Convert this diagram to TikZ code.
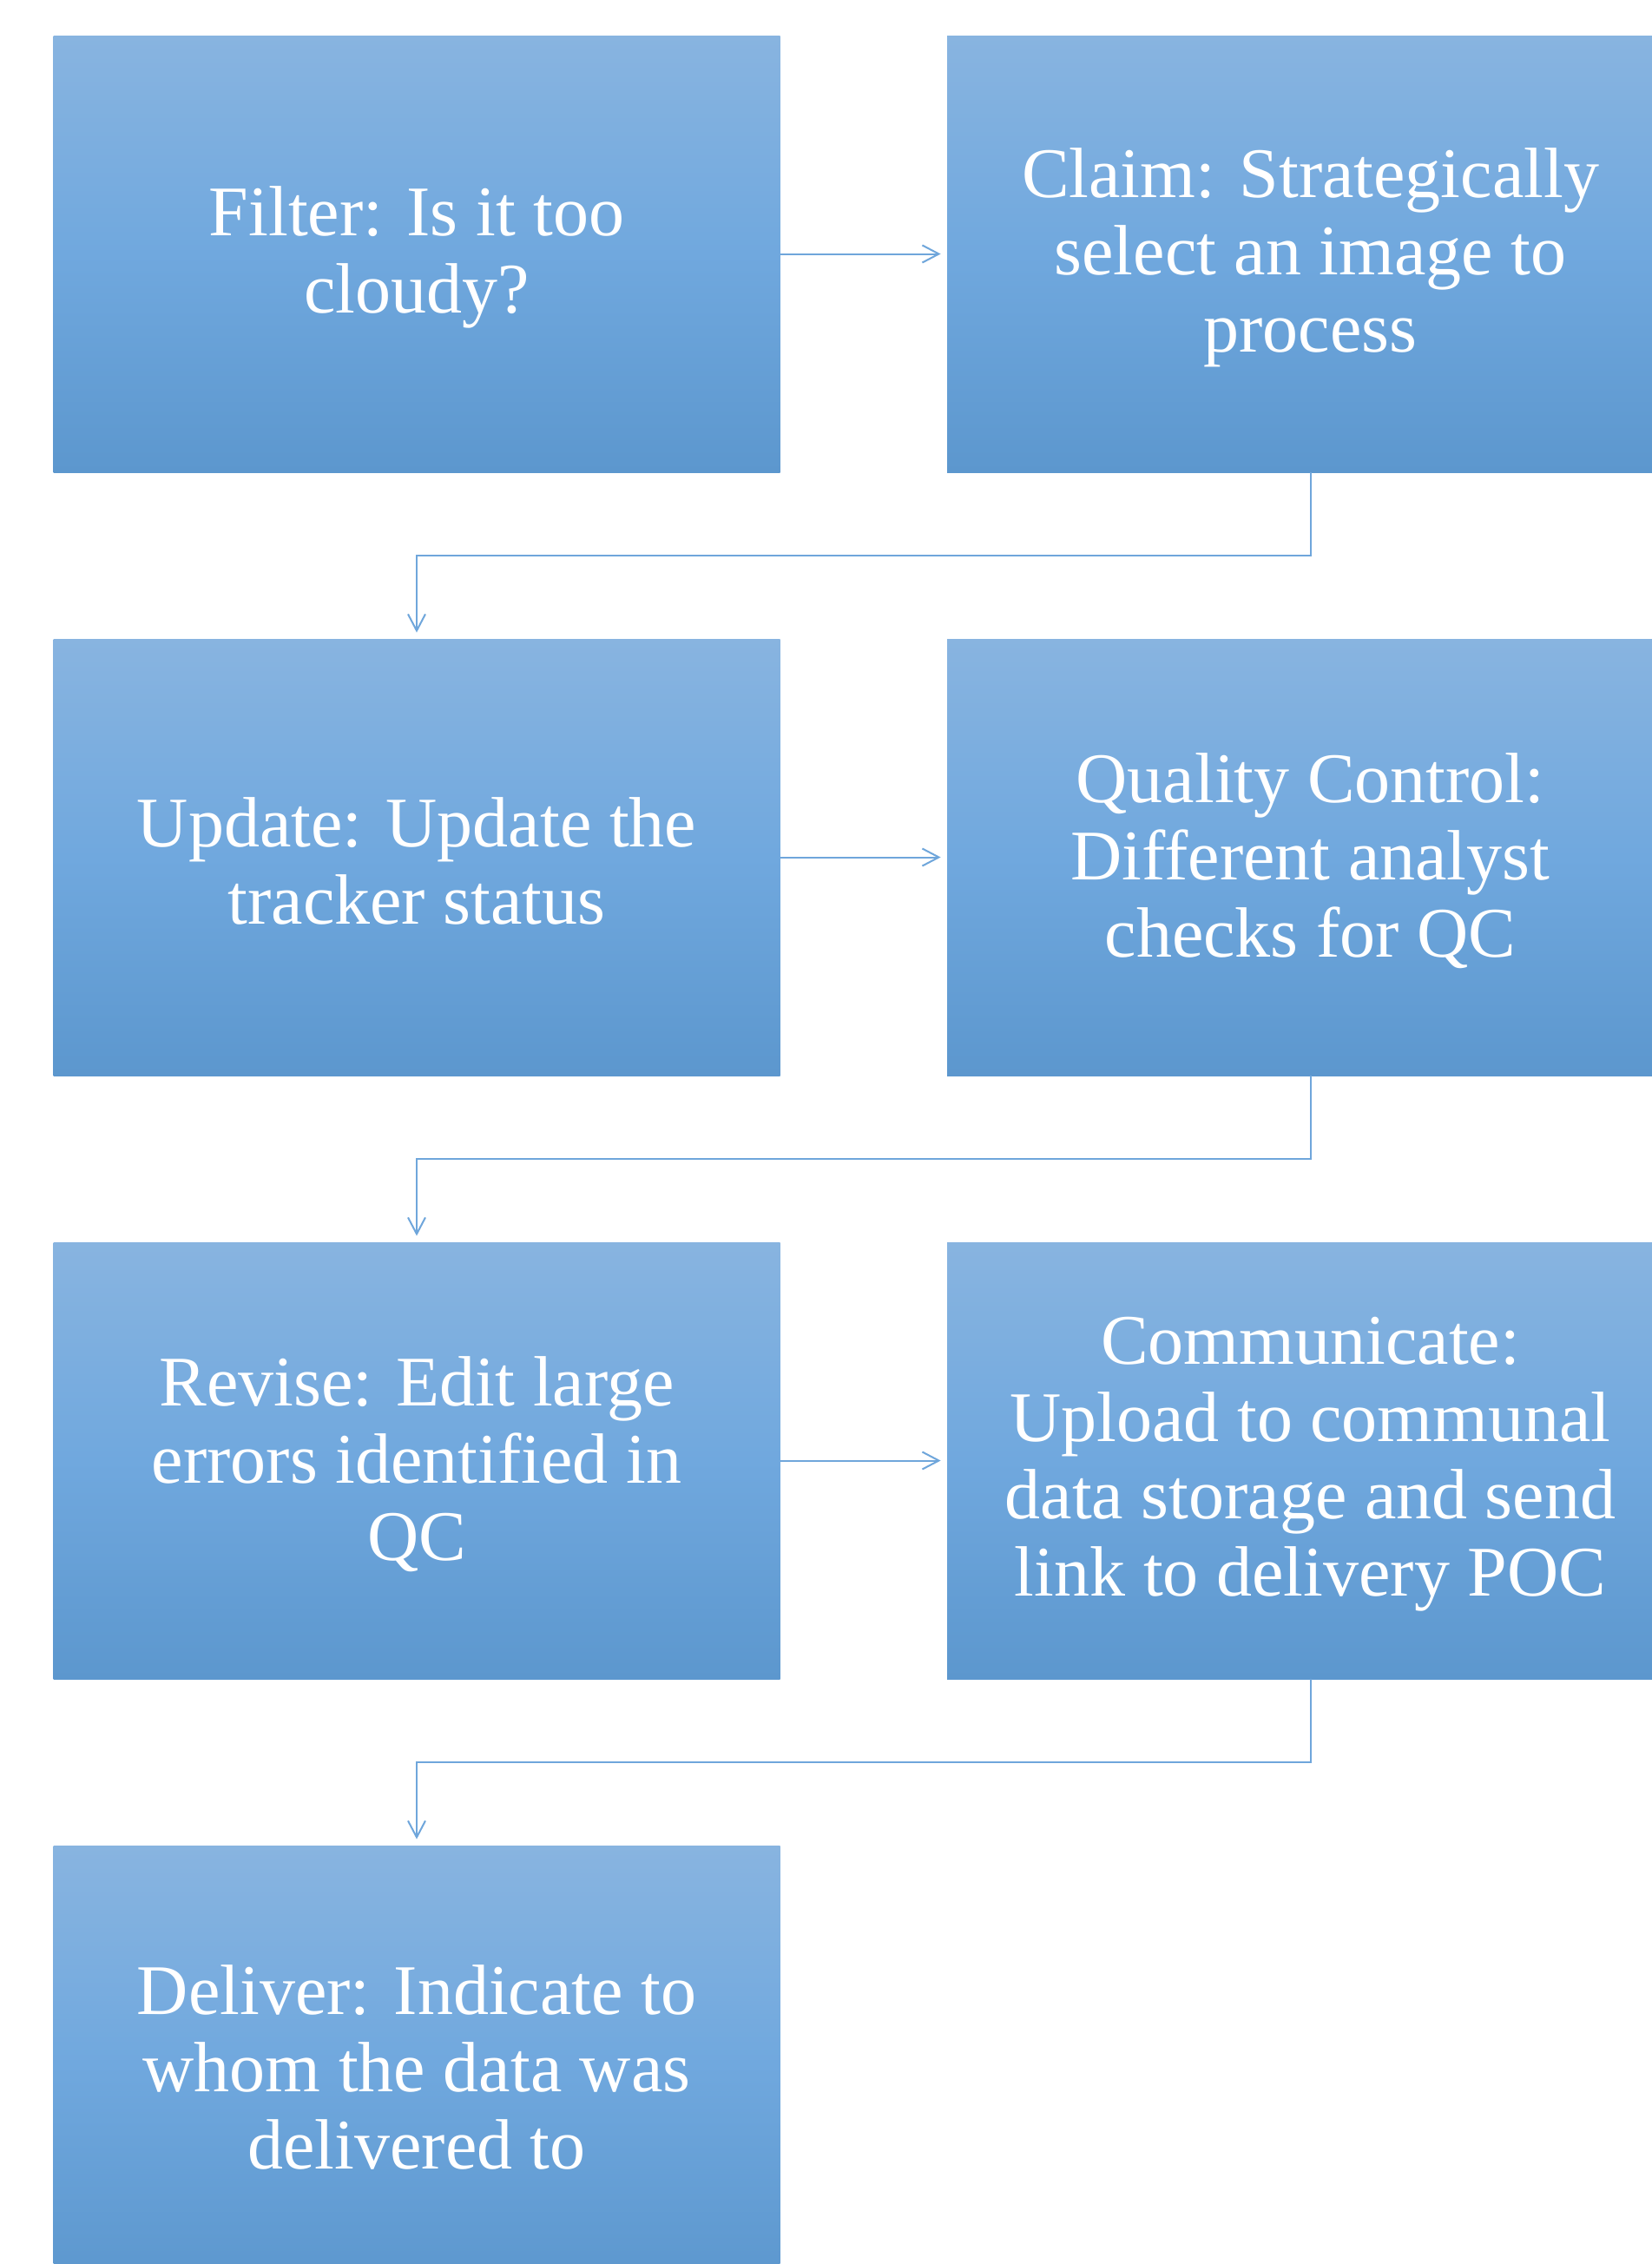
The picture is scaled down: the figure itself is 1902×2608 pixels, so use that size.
\documentclass[tikz,border=0pt]{standalone}
\usepackage{fontspec}
\setmainfont{Liberation Serif}
\usetikzlibrary{arrows.meta}
\definecolor{gtop}{HTML}{88B4E0}
\definecolor{gmid}{HTML}{70A8DE}
\definecolor{gbot}{HTML}{5C97CE}
\definecolor{lineblue}{HTML}{6FA6DB}
\tikzset{
  stepbox/.style={rectangle, inner sep=0pt, minimum width=418.5pt, minimum height=251.5pt,
    top color=gtop, bottom color=gbot, middle color=gmid, draw=none},
  steptext/.style={text=white, align=center, inner sep=0pt, yshift=-2pt,
    font=\fontsize{41}{44.5}\selectfont},
  conn/.style={draw=lineblue, line width=1pt,
    -{Straight Barb[length=9.5pt, width=10pt, line width=1pt]}, shorten >=3.5pt}
}
\begin{document}
\begin{tikzpicture}[x=0.5pt, y=-0.5pt]
\fill[white] (0,0) rectangle (1902,2608);
\useasboundingbox (0,0) rectangle (1902,2608);
\node[stepbox, label={[steptext]center:{Filter: Is it too\\cloudy?}}] (b1) at (480,292.5) {};
\node[stepbox, label={[steptext]center:{Claim: Strategically\\select an image to\\process}}] (b2) at (1509.5,292.5) {};
\node[stepbox, label={[steptext]center:{Update: Update the\\tracker status}}] (b3) at (480,987.5) {};
\node[stepbox, label={[steptext]center:{Quality Control:\\Different analyst\\checks for QC}}] (b4) at (1509.5,987.5) {};
\node[stepbox, label={[steptext]center:{Revise: Edit large\\errors identified in\\QC}}] (b5) at (480,1682.5) {};
\node[stepbox, label={[steptext]center:{Communicate:\\Upload to communal\\data storage and send\\link to delivery POC}}] (b6) at (1509.5,1682.5) {};
\node[stepbox, label={[steptext]center:{Deliver: Indicate to\\whom the data was\\delivered to}}] (b7) at (480,2377.5) {};
\draw[conn] (b1.east) -- (b2.west);
\draw[conn] (b3.east) -- (b4.west);
\draw[conn] (b5.east) -- (b6.west);
\draw[conn] (b2.south) -- ++(0,96) -| (b3.north);
\draw[conn] (b4.south) -- ++(0,96) -| (b5.north);
\draw[conn] (b6.south) -- ++(0,96) -| (b7.north);
\end{tikzpicture}
\end{document}
